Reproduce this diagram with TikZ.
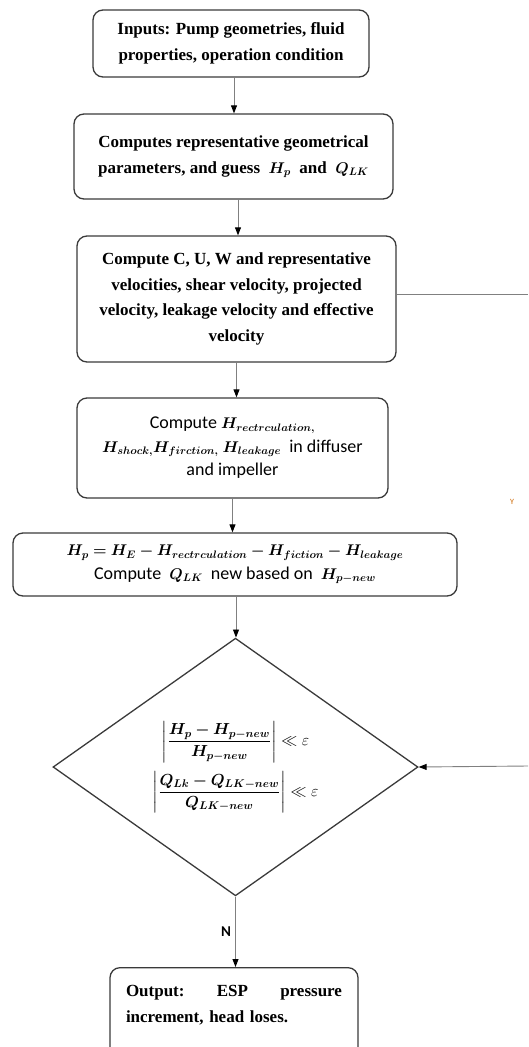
\RequirePackage{fix-cm}
\documentclass[tikz,border=0pt]{standalone}
\usepackage{amsmath,bm}
\usepackage{fontspec}
\setmainfont{Liberation Serif}
\newfontfamily\calib{Carlito}
\usetikzlibrary{arrows.meta,shapes.geometric}
\definecolor{boxc}{HTML}{3A3A3A}
\definecolor{linec}{HTML}{808080}
\newcommand\mm[1]{{\fontsize{15.5}{17}\selectfont$\bm{#1}$}}
\begin{document}
\begin{tikzpicture}[x=1pt,y=-1pt,
  box/.style={draw=boxc, line width=1.3pt, rounded corners=10pt, align=center, inner sep=0pt},
  serif/.style={font=\fontsize{17}{25.8}\selectfont\bfseries},
  sans/.style={font=\calib\fontsize{18}{23.5}\selectfont},
  conn/.style={draw=linec, line width=0.9pt, -{Triangle[length=8pt,width=6pt,color=black]}},
  plain/.style={draw=linec, line width=1pt}]
\useasboundingbox (0,0) rectangle (528,1047);
\clip (0,0) rectangle (528,1047);

\node[box, serif, minimum width=276pt, minimum height=67pt] (in) at (231,43.5)
  {\rule{0pt}{5pt}Inputs: Pump geometries, fluid\\properties, operation condition};
\node[box, serif, minimum width=319pt, minimum height=85pt] (geo) at (233.5,156.5)
  {Computes representative geometrical\\parameters, and guess\ \ \mm{H_p}\ \ and\ \ \mm{Q_{LK}}};
\node[box, serif, minimum width=319pt, minimum height=126pt] (vel) at (236.5,299)
  {Compute C, U, W and representative\\velocities, shear velocity, projected\\velocity, leakage velocity and effective\\velocity};
\node[box, sans, minimum width=311pt, minimum height=100pt] (loss) at (232.5,448)
  {Compute \mm{H_{rectrculation,}}\\\mm{H_{shock,}H_{firction,}}\ \mm{H_{leakage}}\ \ in diffuser\\and impeller};
\node[box, sans, minimum width=444pt, minimum height=63pt] (hp) at (235,564.5)
  {\mm{H_p = H_E - H_{rectrculation} - H_{fiction} - H_{leakage}}\\Compute\ \ \mm{Q_{LK}}\ \ new based on\ \ \mm{H_{p-new}}};
\node[draw=boxc, line width=1.3pt, shape=diamond, minimum width=365pt, minimum height=224pt, inner sep=0pt,
  align=center, font=\fontsize{16}{22}\selectfont] (dia) at (235.5,767)
  {\rule{0pt}{14pt}$\left|\dfrac{\bm{H_p - H_{p-new}}}{\bm{H_{p-new}}}\right| \ll \varepsilon$\\[8pt]
   $\left|\dfrac{\bm{Q_{Lk} - Q_{LK-new}}}{\bm{Q_{LK-new}}}\right| \ll \varepsilon$};
\node[box, serif, anchor=north, text width=216pt, align=left, inner xsep=16pt, inner ysep=18pt] (out) at (234,967)
  {\hbox to 216pt{Output:\hfill ESP\hfill pressure}\\increment, head loses.\rule[-70pt]{0pt}{0pt}};

\coordinate (r1) at (528,294);
\coordinate (r2) at (528,766);

\draw[conn] ([xshift=3pt]in.south) -- ([xshift=3pt]in.south |- geo.north);
\draw[conn] ([xshift=4.5pt]geo.south) -- ([xshift=4.5pt]geo.south |- vel.north);
\draw[conn] (vel.south) -- (vel.south |- loss.north);
\draw[conn] (loss.south) -- (loss.south |- hp.north);
\draw[conn] ([xshift=1pt]hp.south) -- ([xshift=1pt]hp.south |- dia.north);
\draw[conn] (dia.south) -- node[left, pos=0.5, font=\calib\bfseries\fontsize{15}{15}\selectfont, inner sep=4pt] {N} (dia.south |- out.north);
\draw[plain] (vel.east |- r1) -- (r1);
\draw[conn] (r2) -- (dia.east);
\node[text=orange!80!black, font=\calib\fontsize{8}{8}\selectfont, inner sep=0pt] (y) at (512,502) {Y};
\end{tikzpicture}
\end{document}
